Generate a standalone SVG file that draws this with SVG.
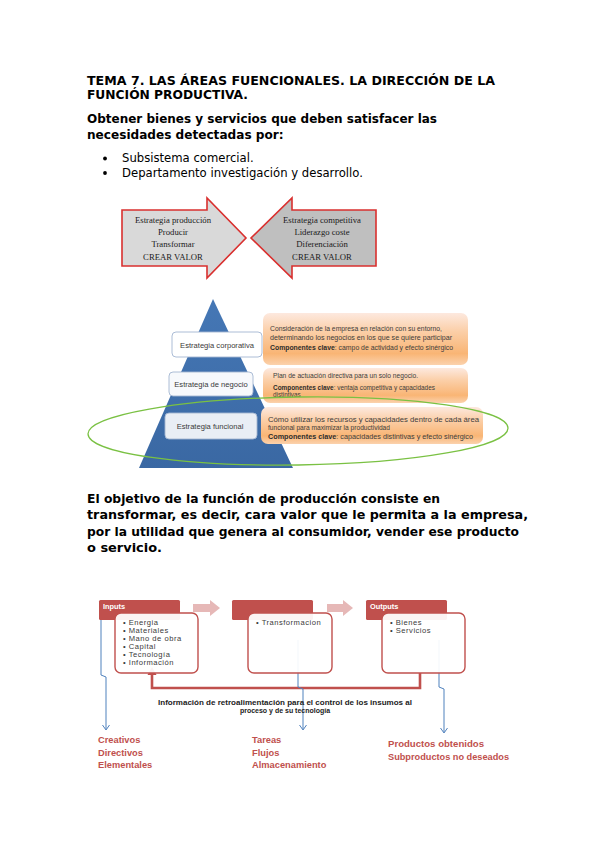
<svg xmlns="http://www.w3.org/2000/svg" width="599" height="848" viewBox="0 0 599 848">
<defs>
<style>
.h{font-family:"DejaVu Sans",sans-serif;font-weight:bold;fill:#000}
.b{font-family:"DejaVu Sans",sans-serif;font-size:11.65px;fill:#000}
.sf{font-family:"Liberation Serif",serif;fill:#1a1a1a;text-anchor:middle;font-size:8.7px}
.arr{stroke:#d9302f;stroke-width:1.6;stroke-linejoin:miter}
.pl{font-family:"Liberation Sans",sans-serif;font-size:7.6px;fill:#3a3a3a}
.pbox{stroke:#a3b6d1;stroke-width:0.9}
.ot{font-family:"Liberation Sans",sans-serif;font-size:6.3px;fill:#3d3d3d}
.ob{font-weight:bold;fill:#2d2d2d}
.fh{fill:#c0504d}
.fb{fill:#fff;fill-opacity:0.93;stroke:#c0504d;stroke-width:1.4}
.ft{font-family:"Liberation Sans",sans-serif;font-size:7.6px;fill:#3a3a3a;letter-spacing:0.5px}
.fw{font-family:"Liberation Sans",sans-serif;font-size:7.4px;font-weight:bold;fill:#fff}
.pa{fill:#e6b8b7}
.bl{fill:none;stroke:#4f81bd;stroke-width:1}
.rl{font-family:"Liberation Sans",sans-serif;font-weight:bold;fill:#c0504d;font-size:9.3px}
.fbt{font-family:"Liberation Sans",sans-serif;font-size:7px;font-weight:bold;fill:#222;text-anchor:middle}
</style>
<linearGradient id="og" x1="0" y1="0" x2="0" y2="1">
<stop offset="0" stop-color="#fde9df"/>
<stop offset="0.35" stop-color="#fbcfa8"/>
<stop offset="0.78" stop-color="#f9b575"/>
<stop offset="1" stop-color="#fbd2ad"/>
</linearGradient>
<linearGradient id="pg" x1="0" y1="0" x2="0" y2="1">
<stop offset="0" stop-color="#4577b5"/>
<stop offset="1" stop-color="#3a68a3"/>
</linearGradient>
</defs>

<rect width="599" height="848" fill="#fff"/>

<!-- Header text -->
<g id="header">
<text class="h" x="87" y="84.5" font-size="12.6" textLength="408" lengthAdjust="spacingAndGlyphs">TEMA 7. LAS ÁREAS FUENCIONALES. LA DIRECCIÓN DE LA</text>
<text class="h" x="87" y="99" font-size="12.6" textLength="161" lengthAdjust="spacingAndGlyphs">FUNCIÓN PRODUCTIVA.</text>
<text class="h" x="87" y="122.5" font-size="12.1" textLength="350" lengthAdjust="spacingAndGlyphs">Obtener bienes y servicios que deben satisfacer las</text>
<text class="h" x="87" y="138.5" font-size="12.1">necesidades detectadas por:</text>
<circle cx="105" cy="158.5" r="1.9" fill="#000"/>
<text class="b" x="122" y="162">Subsistema comercial.</text>
<circle cx="105" cy="173" r="1.9" fill="#000"/>
<text class="b" x="122" y="176.5">Departamento investigación y desarrollo.</text>
</g>

<!-- Strategy arrows -->
<g id="arrow-produccion">
<polygon class="arr" fill="#d9d9d9" points="122,210 207,210 207,198 246,238 207,278 207,266 122,266"/>
<text class="sf" x="173" y="222.5" font-size="9.5">Estrategia producción</text>
<text class="sf" x="173" y="235">Producir</text>
<text class="sf" x="173" y="247">Transformar</text>
<text class="sf" x="173" y="260">CREAR VALOR</text>
</g>
<g id="arrow-competitiva">
<polygon class="arr" fill="#bfbfbf" points="376,210 292,210 292,198 251,238 292,278 292,266 376,266"/>
<text class="sf" x="322" y="222.5" font-size="9.5">Estrategia competitiva</text>
<text class="sf" x="322" y="235">Liderazgo coste</text>
<text class="sf" x="322" y="247">Diferenciación</text>
<text class="sf" x="322" y="260">CREAR VALOR</text>
</g>

<!-- Pyramid -->
<g id="pyramid">
<polygon fill="url(#pg)" points="213,299 139,468 293,468"/>
</g>
<g id="estrategia-corporativa">
<rect class="pbox" x="172" y="332" width="90" height="25" rx="4" fill="#fff"/>
<text class="pl" x="217" y="347.5" text-anchor="middle">Estrategia corporativa</text>
</g>
<g id="estrategia-negocio">
<rect class="pbox" x="169" y="372" width="84" height="24" rx="4" fill="#f7f9fc"/>
<text class="pl" x="211" y="387" text-anchor="middle">Estrategia de negocio</text>
</g>
<g id="estrategia-funcional">
<rect class="pbox" x="165" y="413" width="92" height="26" rx="4" fill="#e9eef5"/>
<text class="pl" x="210" y="428.5" text-anchor="middle">Estrategia funcional</text>
</g>

<g id="desc-corporativa">
<rect x="263" y="313" width="205" height="52" rx="7" fill="url(#og)"/>
<text class="ot" x="270" y="331" textLength="172" lengthAdjust="spacingAndGlyphs">Consideración de la empresa en relación con su entorno,</text>
<text class="ot" x="270" y="339.5" textLength="182" lengthAdjust="spacingAndGlyphs">determinando los negocios en los que se quiere participar</text>
<text class="ot" x="270" y="350" textLength="183" lengthAdjust="spacingAndGlyphs"><tspan class="ob">Componentes clave</tspan>: campo de actividad y efecto sinérgico</text>
</g>
<g id="desc-negocio">
<rect x="263" y="368" width="205" height="35" rx="7" fill="url(#og)"/>
<text class="ot" x="273" y="378" textLength="145" lengthAdjust="spacingAndGlyphs">Plan de actuación directiva para un solo negocio.</text>
<text class="ot" x="273" y="389.5" textLength="162" lengthAdjust="spacingAndGlyphs"><tspan class="ob">Componentes clave</tspan>: ventaja competitiva y capacidades</text>
<text class="ot" x="273" y="397">distintivas</text>
</g>
<g id="desc-funcional">
<rect x="261" y="407" width="222" height="37" rx="7" fill="url(#og)"/>
<text class="ot" x="268" y="422" textLength="211" lengthAdjust="spacingAndGlyphs">Cómo utilizar los recursos y capacidades dentro de cada área</text>
<text class="ot" x="268" y="429.5" textLength="122" lengthAdjust="spacingAndGlyphs">funcional para maximizar la productividad</text>
<text class="ot" x="268" y="438.5" textLength="205" lengthAdjust="spacingAndGlyphs"><tspan class="ob">Componentes clave</tspan>: capacidades distintivas y efecto sinérgico</text>
</g>
<g id="green-ellipse">
<ellipse cx="298" cy="431" rx="210" ry="34" fill="none" stroke="#7ac143" stroke-width="1.3" transform="rotate(-0.8 298 431)"/>
</g>

<!-- Paragraph -->
<g id="paragraph">
<text class="h" x="87" y="503" font-size="12.3" textLength="353" lengthAdjust="spacingAndGlyphs">El objetivo de la función de producción consiste en</text>
<text class="h" x="87" y="519.3" font-size="12.3" textLength="441" lengthAdjust="spacingAndGlyphs">transformar, es decir, cara valor que le permita a la empresa,</text>
<text class="h" x="87" y="535.6" font-size="12.3" textLength="432" lengthAdjust="spacingAndGlyphs">por la utilidad que genera al consumidor, vender ese producto</text>
<text class="h" x="87" y="551.9" font-size="12.3" textLength="75" lengthAdjust="spacingAndGlyphs">o servicio.</text>
</g>

<!-- Flow diagram -->
<g id="connectors">
<polygon class="pa" points="193,604 210,604 210,600 220,608 210,616 210,612 193,612"/>
<polygon class="pa" points="327,604 343,604 343,600 353,608 343,616 343,612 327,612"/>
<path d="M420,673 V688 H152 V674" fill="none" stroke="#c0504d" stroke-width="2.6"/>
<polygon points="152,667 147.5,675 156.5,675" fill="#c0504d"/>
<path class="bl" d="M101,620 V675 L106,677 V729"/>
<path class="bl" d="M102.5,725 L106,730 L109.5,725"/>
<path class="bl" d="M298,640 V687 L303,689 V729"/>
<path class="bl" d="M299.5,725 L303,730 L306.5,725"/>
<path class="bl" d="M439,640 V687 L444,689 V732"/>
<path class="bl" d="M440.5,728 L444,733 L447.5,728"/>
</g>

<g id="inputs">
<rect class="fh" x="99" y="600" width="81" height="20" rx="1.5"/>
<rect class="fb" x="115" y="613" width="83" height="60" rx="6"/>
<text class="fw" x="103" y="609">Inputs</text>
<text class="ft" x="123" y="625">• Energia</text>
<text class="ft" x="123" y="633">• Materiales</text>
<text class="ft" x="123" y="641">• Mano de obra</text>
<text class="ft" x="123" y="649">• Capital</text>
<text class="ft" x="123" y="657">• Tecnología</text>
<text class="ft" x="123" y="665">• Información</text>
</g>
<g id="proceso">
<rect class="fh" x="232" y="600" width="81" height="20" rx="1.5"/>
<rect class="fb" x="248" y="613" width="84" height="60" rx="6"/>
<text class="ft" x="256" y="625">• Transformacion</text>
</g>
<g id="outputs">
<rect class="fh" x="366" y="600" width="81" height="20" rx="1.5"/>
<rect class="fb" x="382" y="613" width="83" height="60" rx="6"/>
<text class="fw" x="370" y="609">Outputs</text>
<text class="ft" x="390" y="625">• Bienes</text>
<text class="ft" x="390" y="633">• Servicios</text>
</g>

<g id="feedback-label">
<text class="fbt" x="285" y="705" textLength="254" lengthAdjust="spacingAndGlyphs">Información de retroalimentación para el control de los insumos al</text>
<text class="fbt" x="285" y="713">proceso y de su tecnología</text>
</g>

<g id="labels-inputs">
<text class="rl" x="98" y="743">Creativos</text>
<text class="rl" x="98" y="755.5">Directivos</text>
<text class="rl" x="98" y="767.5">Elementales</text>
</g>
<g id="labels-proceso">
<text class="rl" x="252" y="743">Tareas</text>
<text class="rl" x="252" y="755.5">Flujos</text>
<text class="rl" x="252" y="767.5">Almacenamiento</text>
</g>
<g id="labels-outputs">
<text class="rl" x="388" y="747" font-size="10" textLength="96" lengthAdjust="spacingAndGlyphs">Productos obtenidos</text>
<text class="rl" x="388" y="760" font-size="10" textLength="121" lengthAdjust="spacingAndGlyphs">Subproductos no deseados</text>
</g>
</svg>
